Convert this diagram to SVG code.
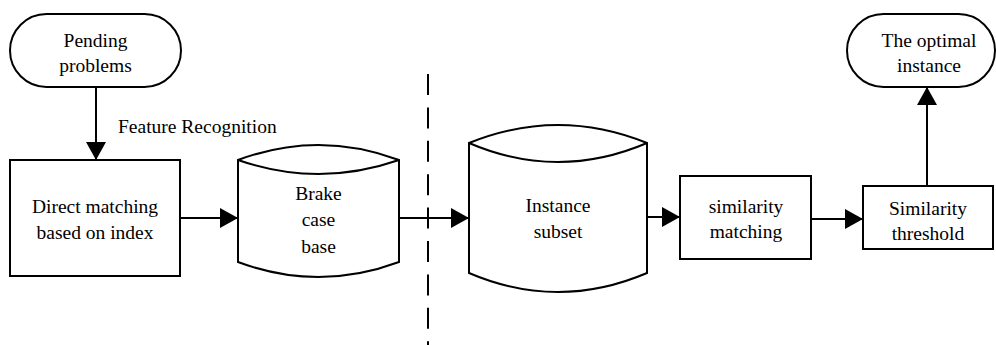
<svg xmlns="http://www.w3.org/2000/svg" width="996" height="345" viewBox="0 0 996 345">
  <defs>
    <style>
      .shape { fill: #fff; stroke: #000; stroke-width: 2; }
      .line { fill: none; stroke: #000; stroke-width: 2; }
      .dash { fill: none; stroke: #000; stroke-width: 2; stroke-dasharray: 21 12.4; }
      .t { font-size: 19.5px; fill: #000; text-anchor: middle; }
      .label { text-anchor: start; }
    </style>
    <marker id="arrow" markerUnits="userSpaceOnUse" markerWidth="20" markerHeight="20" viewBox="0 0 18 20" refX="18" refY="10" orient="auto">
      <path d="M0,0 L18,10 L0,20 Z" fill="#000"/>
    </marker>
  </defs>

  <!-- divider -->
  <line class="dash" x1="428" y1="74" x2="428" y2="345"/>

  <g font-family="Liberation Serif, serif">
    <!-- connectors -->
    <g id="connectors">
      <line class="line" x1="96" y1="87" x2="96" y2="160" marker-end="url(#arrow)"/>
      <line class="line" x1="180" y1="218" x2="238" y2="218" marker-end="url(#arrow)"/>
      <line class="line" x1="399" y1="218" x2="469" y2="218" marker-end="url(#arrow)"/>
      <line class="line" x1="647" y1="217" x2="680" y2="217" marker-end="url(#arrow)"/>
      <line class="line" x1="811" y1="219" x2="863" y2="219" marker-end="url(#arrow)"/>
      <line class="line" x1="927" y1="186" x2="927" y2="87" marker-end="url(#arrow)"/>
      <text class="t label" x="118" y="133">Feature Recognition</text>
    </g>

    <g id="pending">
      <rect class="shape" x="10" y="14" width="171" height="73" rx="36.5" ry="36.5"/>
      <text class="t" x="95.5" y="47">Pending</text>
      <text class="t" x="95.5" y="72">problems</text>
    </g>

    <g id="direct-matching">
      <rect class="shape" x="10" y="160" width="170" height="116"/>
      <text class="t" x="95" y="213">Direct matching</text>
      <text class="t" x="95" y="239">based on index</text>
    </g>

    <g id="brake-case-base">
      <path class="shape" d="M238,160 Q318.5,130 399,160 V262 Q318.5,292 238,262 Z"/>
      <path class="line" d="M238,160 Q318.5,188 399,160"/>
      <text class="t" x="318.5" y="200">Brake</text>
      <text class="t" x="318.5" y="226">case</text>
      <text class="t" x="318.5" y="253">base</text>
    </g>

    <g id="instance-subset">
      <path class="shape" d="M469,143 Q558,107 647,143 V273 Q558,311 469,273 Z"/>
      <path class="line" d="M469,143 Q558,181 647,143"/>
      <text class="t" x="558" y="212">Instance</text>
      <text class="t" x="558" y="238">subset</text>
    </g>

    <g id="similarity-matching">
      <rect class="shape" x="680" y="176" width="131" height="83"/>
      <text class="t" x="746" y="213">similarity</text>
      <text class="t" x="746" y="238">matching</text>
    </g>

    <g id="similarity-threshold">
      <rect class="shape" x="863" y="186" width="130" height="63"/>
      <text class="t" x="928" y="215">Similarity</text>
      <text class="t" x="928" y="240">threshold</text>
    </g>

    <g id="optimal-instance">
      <rect class="shape" x="847" y="14" width="148" height="73" rx="36.5" ry="36.5"/>
      <text class="t" x="929" y="47">The optimal</text>
      <text class="t" x="929" y="72">instance</text>
    </g>
  </g>
</svg>
